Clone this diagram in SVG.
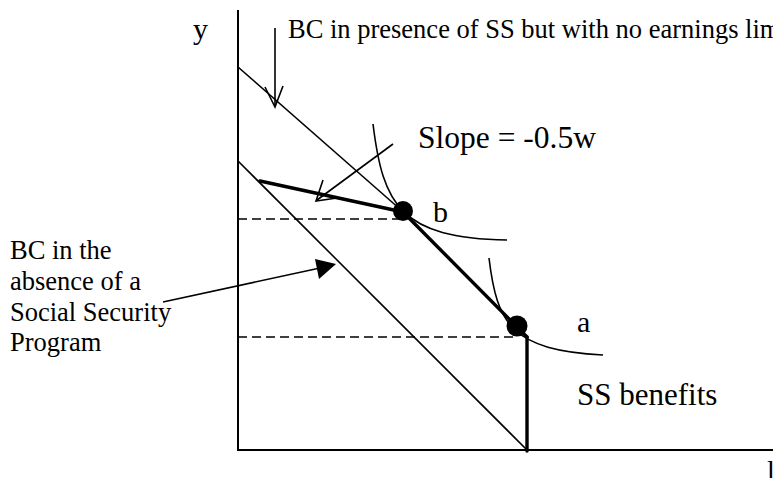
<svg xmlns="http://www.w3.org/2000/svg" width="773" height="478" viewBox="0 0 773 478">
<style>
.t{font-family:"Liberation Serif","Times New Roman",serif;fill:#000}
.thin{stroke:#000;stroke-width:1.6;fill:none}
.axis{stroke:#000;stroke-width:2;fill:none}
.thick{stroke:#000;stroke-width:3.4;fill:none;stroke-linecap:round}
.dash{stroke:#000;stroke-width:1.6;fill:none;stroke-dasharray:9 5}
</style>
<rect width="773" height="478" fill="#fff"/>
<g id="axes">
<line class="axis" x1="238" y1="10" x2="238" y2="451"/>
<line class="axis" x1="237" y1="450" x2="773" y2="450"/>
<text class="t" x="193" y="39" font-size="30">y</text>
<text class="t" x="767" y="480" font-size="28">l</text>
</g>
<g id="budget-lines">
<line class="thin" x1="238" y1="161" x2="527" y2="450"/>
<line class="thin" x1="238" y1="67" x2="401" y2="210"/>
<line class="thick" x1="260" y1="181" x2="403" y2="212"/>
<line class="thick" x1="403" y1="212" x2="527" y2="337"/>
<line class="thick" x1="527" y1="337" x2="527" y2="451"/>
<line class="dash" x1="238" y1="219" x2="400" y2="219"/>
<line class="dash" x1="238" y1="337" x2="517" y2="337"/>
</g>
<g id="indifference-curves">
<path class="thin" d="M373,124 C383,205 400,238 507,240"/>
<path class="thin" d="M489,258 C497,325 512,350 603,355"/>
</g>
<g id="point-b">
<circle cx="403" cy="211" r="10" fill="#000"/>
<text class="t" x="433" y="222" font-size="30">b</text>
</g>
<g id="point-a">
<circle cx="517" cy="326" r="10.5" fill="#000"/>
<text class="t" x="577" y="332" font-size="30">a</text>
</g>
<g id="label-top">
<text class="t" x="288" y="38" font-size="26.5">BC in presence of SS but with no earnings lim</text>
</g>
<g id="label-slope">
<text class="t" x="418" y="148" font-size="31.5">Slope = -0.5w</text>
</g>
<g id="label-ss">
<text class="t" x="577" y="405" font-size="31">SS benefits</text>
</g>
<g id="label-left">
<text class="t" font-size="26.5"><tspan x="10" y="259">BC in the</tspan><tspan x="10" y="290">absence of a</tspan><tspan x="10" y="321">Social Security</tspan><tspan x="10" y="351">Program</tspan></text>
</g>
<g id="connectors">
<line class="thin" x1="275" y1="28" x2="275" y2="106"/>
<polyline class="thin" points="265,87 275,107 283,86"/>
<line class="thin" x1="393" y1="144" x2="317" y2="200"/>
<polyline class="thin" points="323,180 316,201 337,198"/>
<line class="thin" x1="163" y1="302" x2="320" y2="268"/>
<polygon points="336,264 315,259 319,279" fill="#000"/>
</g>
</svg>
